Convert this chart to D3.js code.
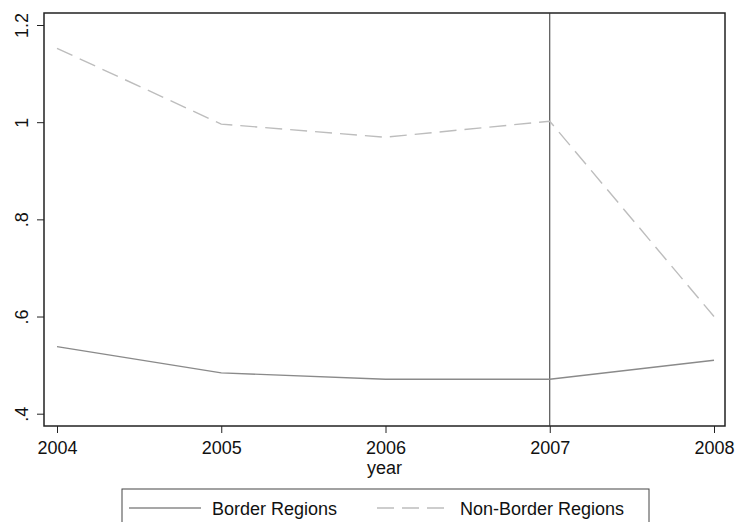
<!DOCTYPE html>
<html><head><meta charset="utf-8">
<script src="https://cdn.jsdelivr.net/npm/d3@7"></script>
<style>body{margin:0;background:#fff}svg{display:block}text{font-family:"Liberation Sans",Arial,sans-serif}</style>
</head><body><svg id="c" width="735" height="522"></svg>
<script>
const years = [2004, 2005, 2006, 2007, 2008];
const border = [0.538, 0.484, 0.471, 0.471, 0.510];
const nonBorder = [1.152, 0.996, 0.969, 1.002, 0.600];
const yTicks = [0.4, 0.6, 0.8, 1.0, 1.2];
const yTickLabels = [".4", ".6", ".8", "1", "1.2"];
const seriesNames = ["Border Regions", "Non-Border Regions"];
const refYear = 2007;

const FS = 18;
const svg = d3.select("#c");
const L = 44, R = 725, T = 13, B = 426;
const x = d3.scaleLinear().domain([2004, 2008]).range([57, 714]);
const y = d3.scaleLinear().domain([0.4, 1.2]).range([413.7, 25]);

// frame
svg.append("rect").attr("x", L).attr("y", T).attr("width", R - L).attr("height", B - T)
  .attr("fill", "none").attr("stroke", "#222").attr("stroke-width", 1.5);

// reference line
svg.append("line").attr("x1", x(refYear)).attr("x2", x(refYear)).attr("y1", T).attr("y2", B)
  .attr("stroke", "#333").attr("stroke-width", 1);

// axes
const yAxis = d3.axisLeft(y).tickValues(yTicks).tickSize(7).tickPadding(10)
  .tickFormat((d, i) => yTickLabels[i]);
const gy = svg.append("g").attr("transform", `translate(${L},0)`).call(yAxis);
gy.select(".domain").remove();
gy.selectAll(".tick line").attr("stroke", "#222");
gy.selectAll(".tick text").attr("font-size", FS).attr("fill", "#111")
  .attr("text-anchor", "middle").attr("x", 0).attr("dy", 0)
  .attr("transform", "translate(-16,0) rotate(-90)");

const xAxis = d3.axisBottom(x).tickValues(years).tickSize(7).tickPadding(8).tickFormat(d3.format("d"));
const gx = svg.append("g").attr("transform", `translate(0,${B})`).call(xAxis);
gx.select(".domain").remove();
gx.selectAll(".tick line").attr("stroke", "#222");
gx.selectAll(".tick text").attr("font-size", FS).attr("fill", "#111");

svg.append("text").attr("x", (L + R) / 2).attr("y", 474).attr("text-anchor", "middle")
  .attr("font-size", FS).attr("fill", "#111").text("year");

// lines
const line = d3.line().x((d, i) => x(years[i])).y(d => y(d));
svg.append("path").datum(border).attr("d", line).attr("fill", "none")
  .attr("stroke", "#8a8a8a").attr("stroke-width", 1.4);
svg.append("path").datum(nonBorder).attr("d", line).attr("fill", "none")
  .attr("stroke", "#bdbdbd").attr("stroke-width", 1.4).attr("stroke-dasharray", "17,8");

// legend
const lg = svg.append("g");
lg.append("rect").attr("x", 122).attr("y", 489).attr("width", 527).attr("height", 60)
  .attr("fill", "#fff").attr("stroke", "#444").attr("stroke-width", 1);
lg.append("line").attr("x1", 129).attr("x2", 201).attr("y1", 508).attr("y2", 508)
  .attr("stroke", "#8a8a8a").attr("stroke-width", 1.4);
lg.append("text").attr("x", 212).attr("y", 515).attr("font-size", FS).attr("fill", "#111").text(seriesNames[0]);
lg.append("line").attr("x1", 377).attr("x2", 449).attr("y1", 508).attr("y2", 508)
  .attr("stroke", "#bdbdbd").attr("stroke-width", 1.4).attr("stroke-dasharray", "17,8");
lg.append("text").attr("x", 460).attr("y", 515).attr("font-size", FS).attr("fill", "#111").text(seriesNames[1]);
</script></body></html>
